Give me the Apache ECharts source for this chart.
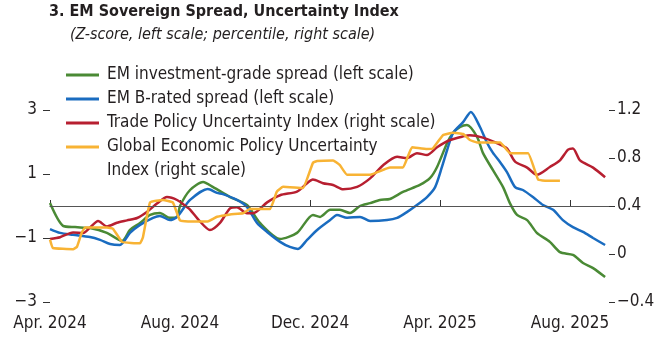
<!DOCTYPE html>
<html>
<head>
<meta charset="utf-8">
<script src="https://cdn.jsdelivr.net/npm/echarts@6/dist/echarts.min.js"></script>
<style>
html,body{margin:0;padding:0;background:#fff;}
#chart{width:670px;height:350px;}
</style>
</head>
<body>
<div id="chart"></div>
<script>
// x values are months since April 2024
const xTickValues = [0, 4, 8, 12, 16];
const xTickLabels = ['Apr. 2024', 'Aug. 2024', 'Dec. 2024', 'Apr. 2025', 'Aug. 2025'];

const seriesNames = [
  'EM investment-grade spread (left scale)',
  'EM B-rated spread (left scale)',
  'Trade Policy Uncertainty Index (right scale)',
  'Global Economic Policy Uncertainty Index (right scale)'
];

// Z-score, left scale
const igSpread = [
  [0,0.09],[0.4,-0.62],[0.77,-0.66],[1.23,-0.69],[1.75,-0.84],[2.22,-1.09],[2.46,-0.75],
  [2.77,-0.53],[3.08,-0.28],[3.38,-0.22],[3.69,-0.37],[3.91,-0.34],[4.0,0.0],[4.31,0.5],
  [4.71,0.75],[5.02,0.59],[5.54,0.28],[6.06,0.03],[6.46,-0.53],[7.08,-1.03],[7.6,-0.84],
  [8.09,-0.28],[8.31,-0.34],[8.62,-0.12],[8.92,-0.12],[9.23,-0.22],[9.54,0.0],[9.85,0.09],
  [10.15,0.19],[10.46,0.22],[10.86,0.44],[11.38,0.66],[11.69,0.87],[11.91,1.22],[12.22,1.97],
  [12.4,2.28],[12.62,2.47],[12.83,2.53],[13.14,2.16],[13.32,1.66],[13.63,1.12],[13.94,0.59],
  [14.15,0.09],[14.37,-0.28],[14.68,-0.44],[14.98,-0.84],[15.38,-1.12],[15.69,-1.44],
  [16.09,-1.53],[16.4,-1.78],[16.71,-1.94],[17.08,-2.22]
];
const bSpread = [
  [0,-0.72],[0.31,-0.84],[0.71,-0.9],[1.23,-0.97],[1.54,-1.06],[1.85,-1.19],[2.15,-1.22],
  [2.46,-0.84],[2.77,-0.59],[3.17,-0.37],[3.38,-0.31],[3.69,-0.44],[3.91,-0.34],[4.31,0.19],
  [4.86,0.53],[5.14,0.41],[5.32,0.37],[5.75,0.19],[6.06,-0.03],[6.37,-0.53],[6.68,-0.81],
  [7.08,-1.12],[7.38,-1.28],[7.63,-1.34],[7.91,-1.06],[8.22,-0.75],[8.62,-0.44],[8.83,-0.28],
  [9.14,-0.37],[9.54,-0.34],[9.85,-0.47],[10.37,-0.44],[10.68,-0.37],[10.98,-0.19],[11.29,0.03],
  [11.6,0.28],[11.85,0.59],[12.06,1.22],[12.22,1.75],[12.4,2.28],[12.71,2.62],[12.95,2.94],
  [13.23,2.47],[13.45,1.97],[13.63,1.66],[13.85,1.37],[14.06,1.06],[14.31,0.59],[14.55,0.5],
  [14.86,0.28],[15.17,0.03],[15.48,-0.12],[15.78,-0.44],[16.09,-0.66],[16.4,-0.81],
  [16.71,-1.0],[17.08,-1.22]
];
// percentile, right scale
const tradePU = [
  [0,0.125],[0.31,0.14],[0.71,0.18],[1.02,0.175],[1.23,0.22],[1.48,0.275],[1.75,0.23],
  [2.06,0.26],[2.37,0.28],[2.68,0.3],[2.98,0.35],[3.29,0.42],[3.6,0.475],[3.91,0.45],
  [4.22,0.39],[4.31,0.37],[4.62,0.27],[4.92,0.2],[5.23,0.26],[5.54,0.38],[5.75,0.39],
  [6.06,0.34],[6.25,0.34],[6.68,0.43],[7.08,0.49],[7.6,0.52],[7.91,0.59],[8.09,0.62],
  [8.4,0.59],[8.71,0.575],[9.02,0.54],[9.45,0.56],[9.85,0.63],[10.25,0.74],[10.68,0.81],
  [10.98,0.8],[11.29,0.84],[11.6,0.825],[11.91,0.89],[12.31,0.95],[12.71,0.98],[12.92,0.99],
  [13.32,0.97],[13.75,0.925],[14.06,0.88],[14.31,0.77],[14.68,0.72],[14.98,0.66],[15.38,0.725],
  [15.69,0.78],[15.94,0.87],[16.09,0.88],[16.31,0.78],[16.71,0.72],[17.08,0.64]
];
const globalEPU = [
  [0,0.12],[0.09,0.05],[0.71,0.04],[0.83,0.06],[0.98,0.18],[1.08,0.22],[1.75,0.22],[1.94,0.21],
  [2.22,0.1],[2.77,0.09],[2.86,0.14],[3.08,0.43],[3.48,0.45],[3.78,0.43],[4.0,0.28],[4.31,0.27],
  [4.83,0.27],[5.14,0.31],[5.54,0.33],[5.94,0.34],[6.15,0.375],[6.77,0.375],[6.98,0.52],
  [7.17,0.56],[7.78,0.55],[8.09,0.76],[8.22,0.775],[8.71,0.78],[8.92,0.74],[9.14,0.66],
  [9.85,0.66],[10.46,0.72],[10.86,0.72],[11.14,0.89],[11.6,0.875],[11.78,0.88],[12.09,0.99],
  [12.4,1.01],[12.71,1.0],[12.92,0.95],[13.14,0.93],[13.85,0.93],[14.15,0.84],[14.71,0.84],
  [15.02,0.62],[15.29,0.61],[15.69,0.61]
];

const colors = ['#4a8a35', '#1a6cc0', '#b71f30', '#f8b334'];
const FONT = "'Liberation Sans Narrow', 'DejaVu Sans Condensed', 'Roboto', sans-serif";
const TXT = '#231f20';
const minus = s => String(s).replace('-', '\u2212');

const chart = echarts.init(document.getElementById('chart'), null, {renderer: 'canvas'});

function lineSeries(i, data, yIdx, smooth) {
  return {
    name: seriesNames[i], type: 'line', data: data, yAxisIndex: yIdx,
    showSymbol: false, symbol: 'none', smooth: smooth,
    lineStyle: {width: 2.5, color: colors[i]}, itemStyle: {color: colors[i]},
    animation: false
  };
}

const sGreen = lineSeries(0, igSpread, 0, 0.25);
sGreen.markLine = {
  silent: true, symbol: 'none', animation: false,
  label: {show: false},
  lineStyle: {color: '#555', width: 1, type: 'solid'},
  data: [{yAxis: 0}]
};

const option = {
  backgroundColor: '#fff',
  animation: false,
  title: [
    {text: '3. EM Sovereign Spread, Uncertainty Index', left: 44, top: -1,
     textStyle: {fontFamily: FONT, fontSize: 16, fontWeight: 'bold', color: TXT}},
    {text: '(Z-score, left scale; percentile, right scale)', left: 65, top: 22,
     textStyle: {fontFamily: FONT, fontSize: 16, fontStyle: 'italic', fontWeight: 'normal', color: TXT}}
  ],
  legend: [
    {
      data: seriesNames.slice(0, 3), orient: 'vertical', left: 66, top: 63, padding: 0,
      itemGap: 0, itemWidth: 33, itemHeight: 3, icon: 'rect', selectedMode: false,
      textStyle: {fontFamily: FONT, fontSize: 17, color: TXT, lineHeight: 24, padding: [0, 0, 0, 3]}
    },
    {
      data: seriesNames.slice(3), orient: 'vertical', left: 66, top: 111, padding: 0,
      itemGap: 0, itemWidth: 33, itemHeight: 3, icon: 'rect', selectedMode: false,
      formatter: () => ' \nGlobal Economic Policy Uncertainty\nIndex (right scale)',
      textStyle: {fontFamily: FONT, fontSize: 17, color: TXT, lineHeight: 24, padding: [0, 0, 0, 3]}
    }
  ],
  grid: {left: 50, right: 61, top: 110, bottom: 48, containLabel: false},
  xAxis: {
    type: 'value', min: 0, max: 17.2, interval: 4,
    axisLine: {show: true, lineStyle: {color: '#333', width: 1}},
    axisTick: {show: true, inside: true, length: 6, customValues: xTickValues, lineStyle: {color: '#333'}},
    axisLabel: {
      customValues: xTickValues, margin: 13,
      fontFamily: FONT, fontSize: 17, color: TXT,
      formatter: v => { const i = xTickValues.indexOf(v); return i >= 0 ? xTickLabels[i] : ''; }
    },
    splitLine: {show: false}
  },
  yAxis: [
    {
      type: 'value', min: -3, max: 3, interval: 2, position: 'left',
      axisLine: {show: false},
      axisTick: {show: true, length: 7, lineStyle: {color: '#333'}},
      axisLabel: {margin: 13, fontFamily: FONT, fontSize: 17, color: TXT, formatter: v => minus(v)},
      splitLine: {show: false}
    },
    {
      type: 'value', min: -0.4, max: 1.2, interval: 0.4, position: 'right',
      axisLine: {show: false},
      axisTick: {show: true, length: 6, lineStyle: {color: '#333'}},
      axisLabel: {margin: 8, fontFamily: FONT, fontSize: 17, color: TXT,
        formatter: v => minus(Math.round(v * 10) / 10)},
      splitLine: {show: false}
    }
  ],
  series: [
    sGreen,
    lineSeries(1, bSpread, 0, 0.25),
    lineSeries(2, tradePU, 1, 0.25),
    lineSeries(3, globalEPU, 1, 0.1)
  ]
};
chart.setOption(option);
</script>
</body>
</html>
